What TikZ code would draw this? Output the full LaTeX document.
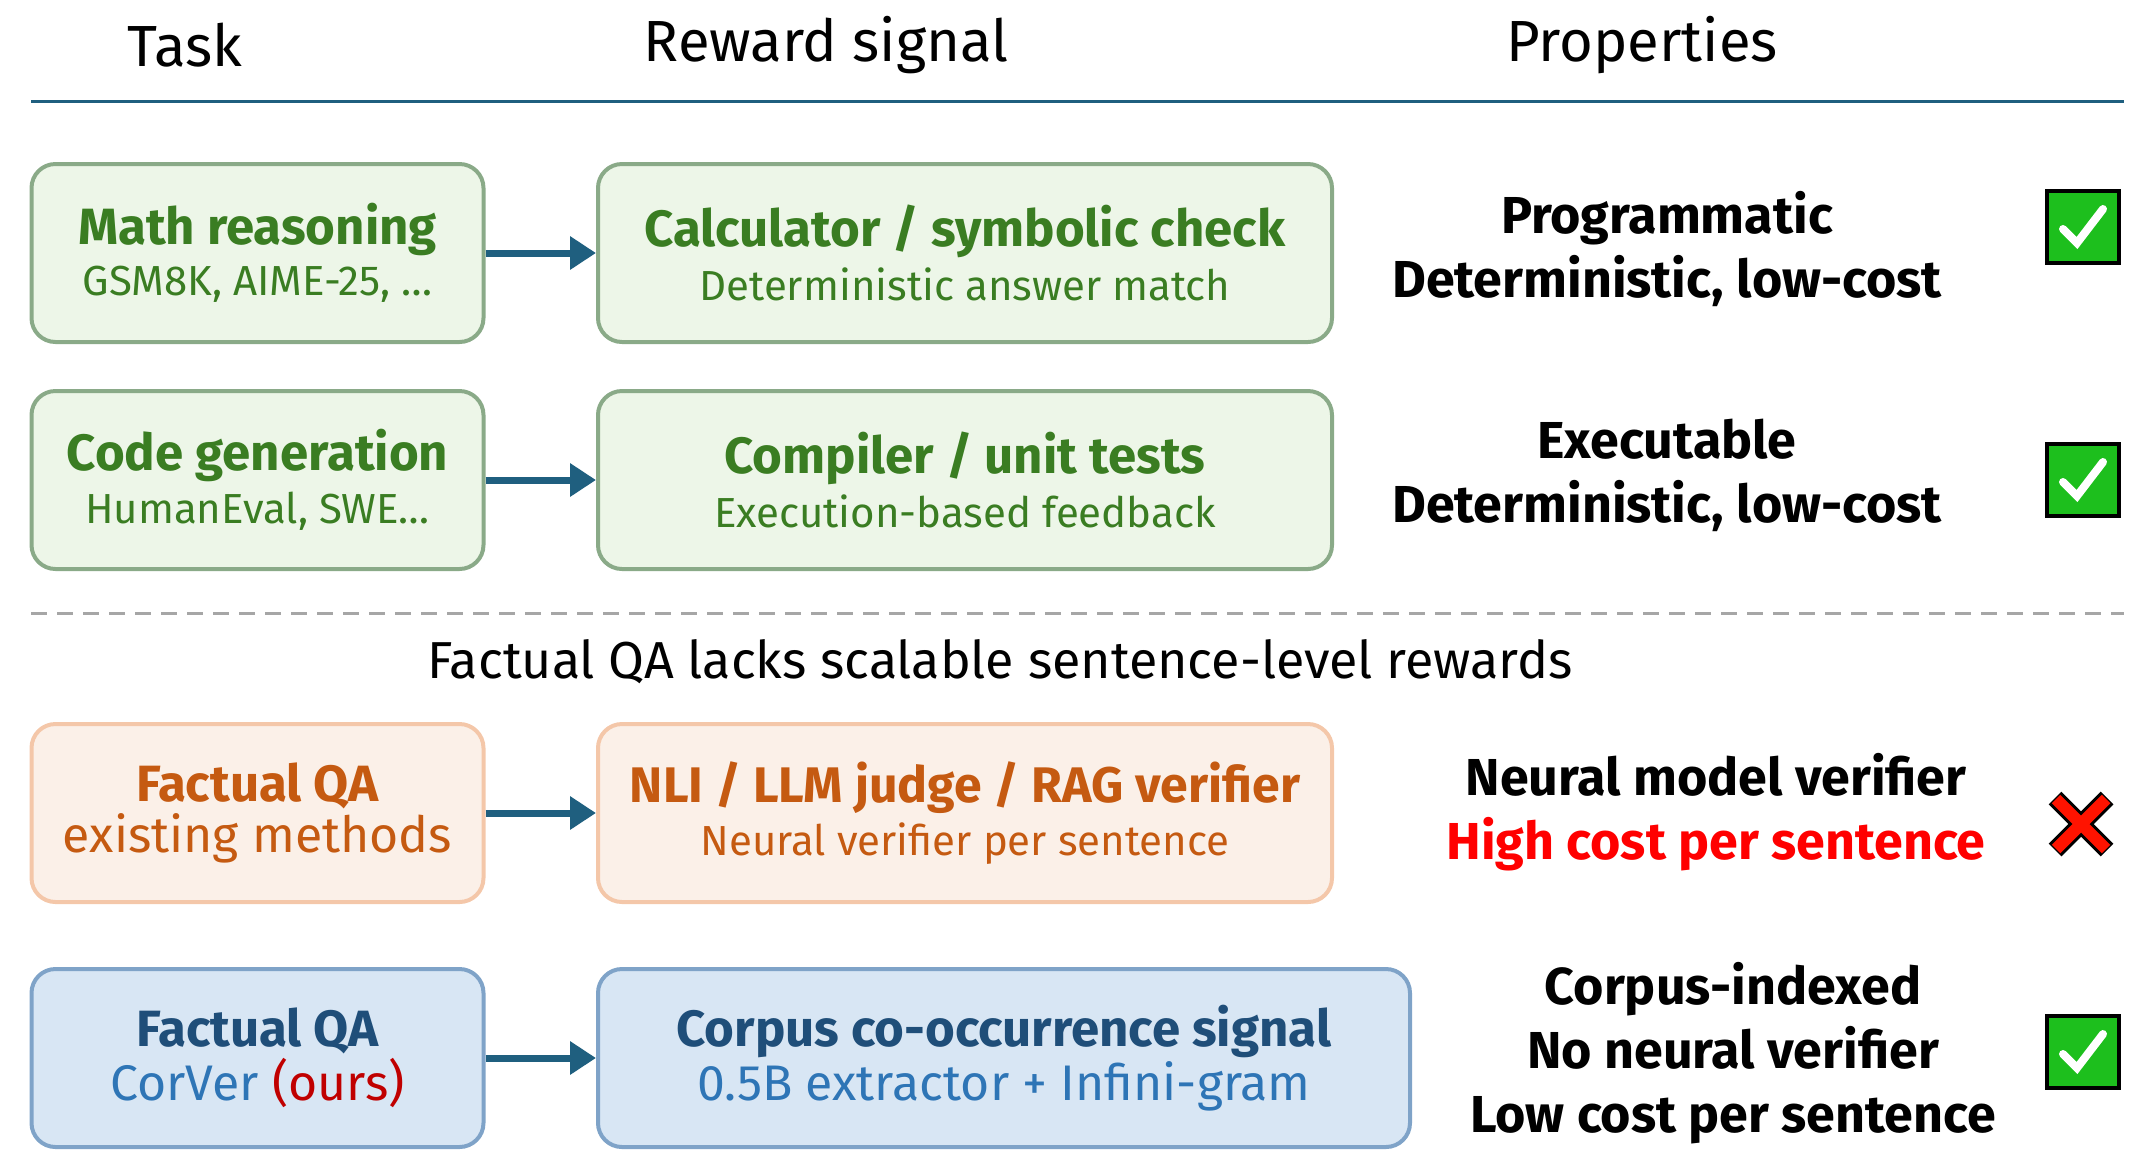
\documentclass[tikz,border=0pt]{standalone}
\usepackage{fontspec}
\setmainfont{Fira Sans}
\usetikzlibrary{arrows.meta, positioning}
\definecolor{rulblue}{HTML}{1F5F7F}
\definecolor{mathgreen}{HTML}{3A7D22}
\definecolor{greenfill}{HTML}{EDF6E8}
\definecolor{greenline}{HTML}{8AAA88}
\definecolor{qaorange}{HTML}{C55A11}
\definecolor{orangefill}{HTML}{FBF0E8}
\definecolor{orangeline}{HTML}{F4C7A9}
\definecolor{corblue}{HTML}{1F4E79}
\definecolor{corlight}{HTML}{2E75B6}
\definecolor{bluefill}{HTML}{D8E6F4}
\definecolor{blueline}{HTML}{7FA3C8}
\definecolor{okgreen}{HTML}{1DBF1D}
\definecolor{oursred}{HTML}{C00000}
\newcommand{\ttlfont}{\bfseries\fontsize{25.5}{31}\selectfont}
\newcommand{\subfont}{\fontsize{21}{26}\selectfont}
\newcommand{\bigsubfont}{\fontsize{25}{31}\selectfont}

\begin{document}
\begin{tikzpicture}[
        x=0.5pt, y=-0.5pt,
        box/.style={draw, rounded corners=12pt, line width=2pt, align=center,
                    minimum height=89pt, inner sep=0pt},
        flow/.style={-{Triangle[length=13pt, width=16pt]}, line width=3.5pt, rulblue},
        head/.style={font=\fontsize{29}{34}\selectfont},
        prop/.style={align=center, font=\bfseries\fontsize{26}{32}\selectfont},
      ]
        \useasboundingbox (0,0) rectangle (2148,1153);

        % headers
        \node[head] (ht) at (185,45) {Task};
        \node[head] (hr) at (826,45) {Reward signal};
        \node[head] (hp) at (1642,45) {Properties};
        \draw[rulblue, line width=1.5pt] (31,101) -- (2124,101);

        % row 1
        \node[box, fill=greenfill, draw=greenline, minimum width=226pt, text=mathgreen] (math) at (257.5,253)
          {{\ttlfont Math reasoning}\\[4pt]{\subfont GSM8K, AIME-25, \dots}};
        \node[box, fill=greenfill, draw=greenline, minimum width=367pt, text=mathgreen] (calc) at (965,253)
          {{\ttlfont Calculator / symbolic check}\\[4pt]{\subfont Deterministic answer match}};
        \draw[flow] (math) -- (calc);
        \node[prop] (p1) at (1667,249) {Programmatic\\Deterministic, low-cost};

        % row 2
        \node[box, fill=greenfill, draw=greenline, minimum width=226pt, text=mathgreen] (code) at (257.5,480)
          {{\ttlfont Code generation}\\[4pt]{\subfont HumanEval, SWE\dots}};
        \node[box, fill=greenfill, draw=greenline, minimum width=367pt, text=mathgreen] (comp) at (965,480)
          {{\ttlfont Compiler / unit tests}\\[4pt]{\subfont Execution-based feedback}};
        \draw[flow] (code) -- (comp);
        \node[prop] (p2) at (1667,475) {Executable\\Deterministic, low-cost};

        \draw[gray!70, line width=1.5pt, dash pattern=on 8pt off 5pt] (31,613) -- (2124,613);
        \node[font=\fontsize{26}{30}\selectfont] (gap) at (1000,662)
          {Factual QA lacks scalable sentence-level rewards};

        % row 3
        \node[box, fill=orangefill, draw=orangeline, minimum width=226pt, text=qaorange] (fqa) at (257.5,813)
          {{\ttlfont Factual QA}\\[1pt]{\bigsubfont existing methods}};
        \node[box, fill=orangefill, draw=orangeline, minimum width=367pt, text=qaorange] (nli) at (965,813)
          {{\bfseries\fontsize{25}{31}\selectfont NLI / LLM judge / RAG verifier}\\[4pt]{\subfont Neural verifier per sentence}};
        \draw[flow] (fqa) -- (nli);
        \node[prop] (p3) at (1716,812) {Neural model verifier\\\textcolor{red}{High cost per sentence}};

        % row 4
        \node[box, fill=bluefill, draw=blueline, minimum width=226pt] (ours) at (257.5,1058)
          {\textcolor{corblue}{\ttlfont Factual QA}\\[1pt]
           {\bigsubfont\textcolor{corlight}{CorVer} \textcolor{oursred}{(ours)}}};
        \node[box, fill=bluefill, draw=blueline, minimum width=406pt] (corp) at (1004,1058)
          {\textcolor{corblue}{\ttlfont Corpus co-occurrence signal}\\[1pt]
           \textcolor{corlight}{\bigsubfont 0.5B extractor + Infini-gram}};
        \draw[flow] (ours) -- (corp);
        \node[prop] (p4) at (1733,1053) {Corpus-indexed\\No neural verifier\\Low cost per sentence};

        % marks
        \foreach \n/\yy in {c1/227, c2/480, c4/1052} {
          \node[draw=black, line width=2pt, fill=okgreen, minimum size=36pt, inner sep=0pt] (\n) at (2083,\yy) {};
          \draw[white, line width=4pt, line cap=round] ([shift={(-20,2)}]\n.center) -- ([shift={(-6,16)}]\n.center) -- ([shift={(20,-18)}]\n.center);
        }
        \coordinate (x3) at (2081,824);
        \draw[black, line width=9pt] ([shift={(-26,-26)}]x3) -- ([shift={(26,26)}]x3)
          ([shift={(-26,26)}]x3) -- ([shift={(26,-26)}]x3);
        \draw[red!85!orange, line width=6pt] ([shift={(-25,-25)}]x3) -- ([shift={(25,25)}]x3)
          ([shift={(-25,25)}]x3) -- ([shift={(25,-25)}]x3);
      \end{tikzpicture}
\end{document}
